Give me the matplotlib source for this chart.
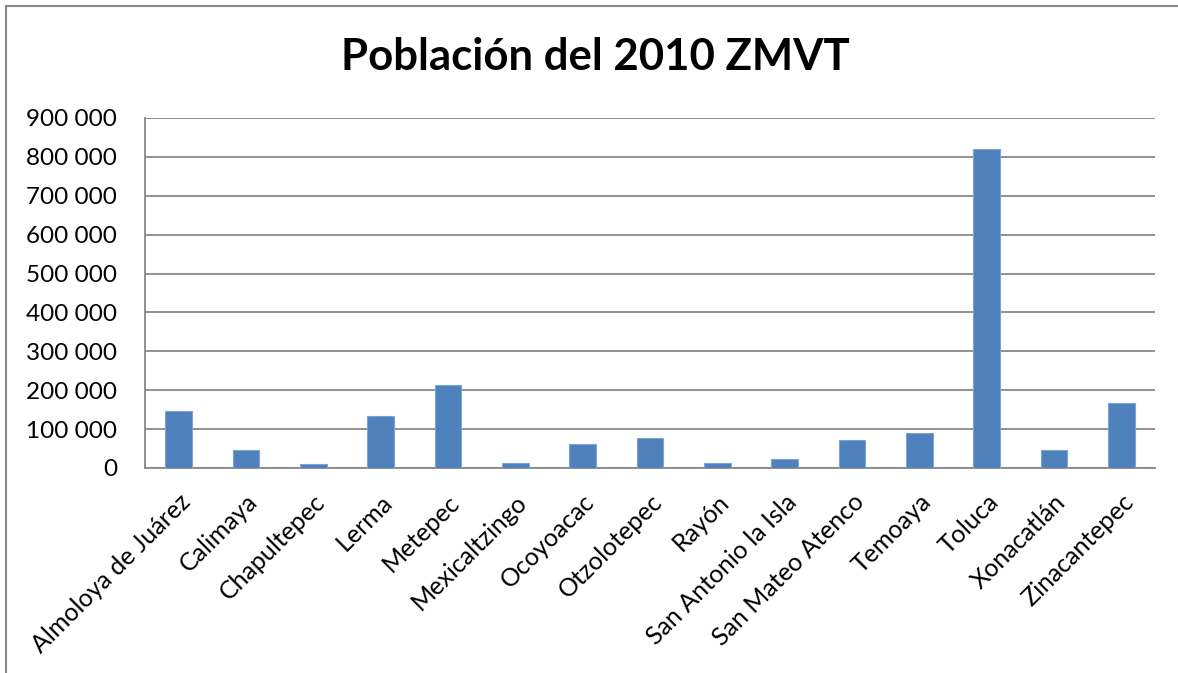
import matplotlib.pyplot as plt
from matplotlib.ticker import FuncFormatter, MultipleLocator

municipios = ['Almoloya de Juárez', 'Calimaya', 'Chapultepec', 'Lerma', 'Metepec',
              'Mexicaltzingo', 'Ocoyoacac', 'Otzolotepec', 'Rayón', 'San Antonio la Isla',
              'San Mateo Atenco', 'Temoaya', 'Toluca', 'Xonacatlán', 'Zinacantepec']
poblacion = [147653, 47033, 9676, 134799, 214162,
             11712, 61805, 78146, 12748, 22152,
             72579, 90010, 819561, 46331, 167759]

plt.rcParams['font.family'] = ['Lato', 'DejaVu Sans']

fig = plt.figure(figsize=(11.78, 6.73), dpi=100)
ax = fig.add_axes([145/1178, 1-468/673, 1010/1178, 350/673])

x = range(len(municipios))
ax.bar(x, poblacion, width=0.4, color='#4F81BD', edgecolor='#7FA3D3', linewidth=0.8, zorder=3)

ax.set_ylim(0, 900000)
ax.set_xlim(-0.5, len(municipios)-0.5)
ax.yaxis.set_major_locator(MultipleLocator(100000))
ax.yaxis.set_major_formatter(FuncFormatter(lambda v, p: '{:,}'.format(int(v)).replace(',', ' ')))
ax.grid(axis='y', color='#888888', linewidth=1.3, zorder=0)
ax.set_axisbelow(True)

for s in ['top', 'right']:
    ax.spines[s].set_visible(False)
ax.spines['left'].set_color('#888888')
ax.spines['bottom'].set_color('#888888')
ax.spines['left'].set_linewidth(1.3)
ax.spines['bottom'].set_linewidth(1.3)

ax.set_xticks(list(x))
ax.set_xticklabels(municipios, rotation=45, ha='right', rotation_mode='anchor', fontsize=18)
ax.tick_params(axis='both', length=0)
ax.tick_params(axis='y', labelsize=17.5, pad=20)
ax.tick_params(axis='x', pad=16)

fig.text(0.505, 1-57/673, 'Población del 2010 ZMVT', ha='center', va='center',
         fontsize=31.5, fontweight='bold')

# marco del grafico
fig.patches.append(plt.Rectangle((6/1178, -0.1), 1.2, 1-6/673+0.1, transform=fig.transFigure,
                                 fill=False, edgecolor='#888888', linewidth=1.5))

plt.savefig('out.png')
